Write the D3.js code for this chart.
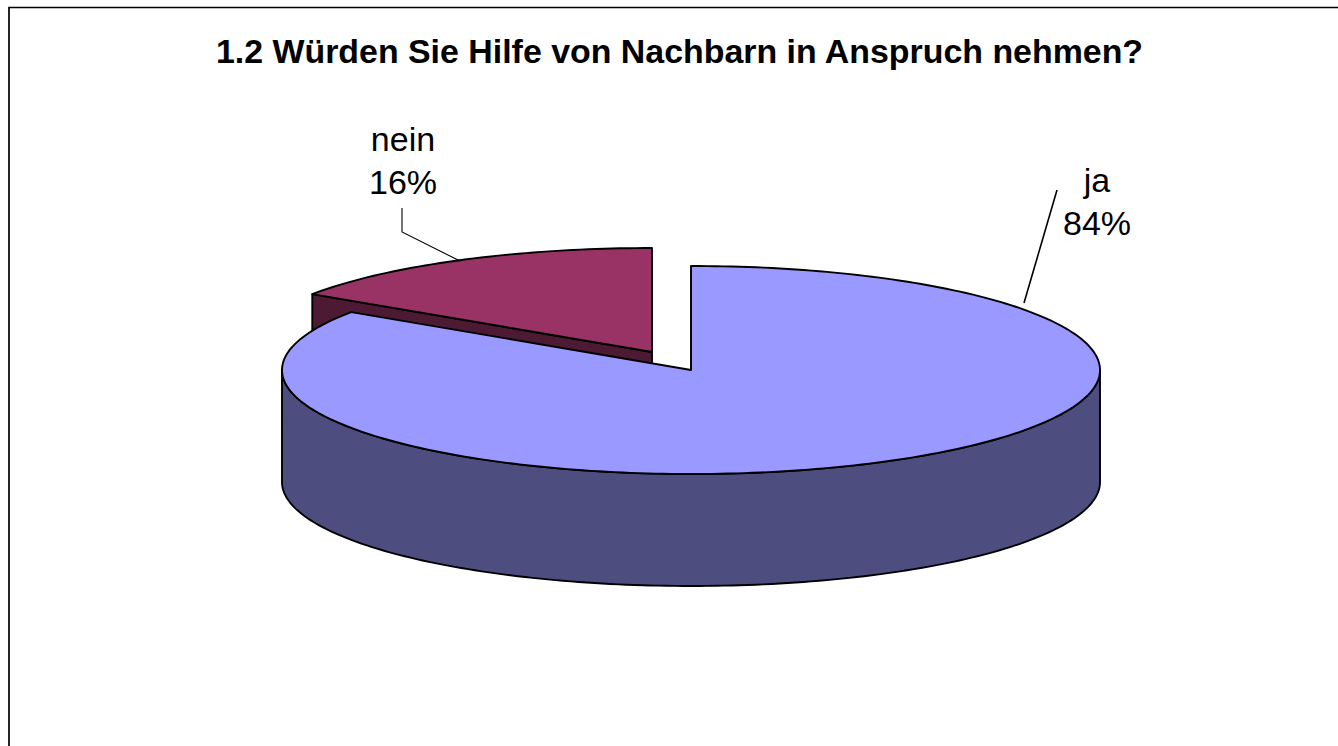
<!DOCTYPE html>
<html><head><meta charset="utf-8">
<script src="https://cdn.jsdelivr.net/npm/d3@7"></script>
<style>html,body{margin:0;padding:0;background:#fff;overflow:hidden}svg{display:block}text{font-family:"Liberation Sans",Arial,sans-serif;fill:#000}</style>
</head><body><svg id="c" width="1338" height="746"></svg>
<script>
const categories = ["ja", "nein"];
const values = [84.4, 15.6];
const labels = ["84%", "16%"];
const topColors = ["#9999FF", "#993366"];
const sideColors = ["#4D4D80", "#4D1A33"];
const titleText = "1.2 Würden Sie Hilfe von Nachbarn in Anspruch nehmen?";

const svg = d3.select("#c");
svg.append("path").attr("d","M9 746V7.5H1338").attr("fill","none").attr("stroke","#000").attr("stroke-width",1.7);
svg.append("text").attr("x",679.5).attr("y",63).attr("text-anchor","middle")
  .attr("font-size",33.9).attr("font-weight","bold").text(titleText);

const rx = 409, ry = 104, depth = 112;
const centers = [[691,370],[652,352]];
const arcs = d3.pie().sort(null).value(d=>d)(values);
const pt = (c,a,dy=0)=>[c[0]+rx*Math.sin(a), c[1]-ry*Math.cos(a)+dy];
const line = d3.line();
const arcPts = (c,a0,a1,dy=0)=>{
  const n = Math.max(2,Math.ceil((a1-a0)/0.02));
  return d3.range(n+1).map(i=>pt(c,a0+(a1-a0)*i/n,dy));
};
const stroke = sel=>sel.attr("stroke","#000").attr("stroke-width",1.9).attr("stroke-linejoin","round");

// nein: cut face, then top
{
  const c = centers[1], a = arcs[1];
  const rim = pt(c,a.startAngle);
  svg.append("path").attr("d",line([c,rim,[rim[0],rim[1]+depth],[c[0],c[1]+depth]])+"Z")
    .attr("fill",sideColors[1]).call(stroke);
  svg.append("path").attr("d",line([c,...arcPts(c,a.startAngle,a.endAngle)])+"Z")
    .attr("fill",topColors[1]).call(stroke);
}
// ja: outer wall, then top
{
  const c = centers[0], a = arcs[0];
  const front = arcPts(c,Math.PI/2,3*Math.PI/2);
  const frontLow = arcPts(c,Math.PI/2,3*Math.PI/2,depth).reverse();
  svg.append("path").attr("d",line([...front,...frontLow])+"Z").attr("fill",sideColors[0]).call(stroke);
  svg.append("path").attr("d",line([c,...arcPts(c,a.startAngle,a.endAngle)])+"Z")
    .attr("fill",topColors[0]).call(stroke);
}
// leader lines
const leaders = [[[1057,190],[1024,303]],[[402,208],[402,232],[460,261]]];
const leaderWidths = [1.6,1.1];
leaders.forEach((l,i)=>svg.append("path").attr("d",line(l)).attr("fill","none").attr("stroke","#000").attr("stroke-width",leaderWidths[i]));
// labels
const labelPos = [[1097,192],[403,151]];
categories.forEach((k,i)=>{
  const t = svg.append("text").attr("text-anchor","middle").attr("font-size",34);
  t.append("tspan").attr("x",labelPos[i][0]).attr("y",labelPos[i][1]).text(k);
  t.append("tspan").attr("x",labelPos[i][0]).attr("y",labelPos[i][1]+42.5).text(labels[i]);
});
</script></body></html>
